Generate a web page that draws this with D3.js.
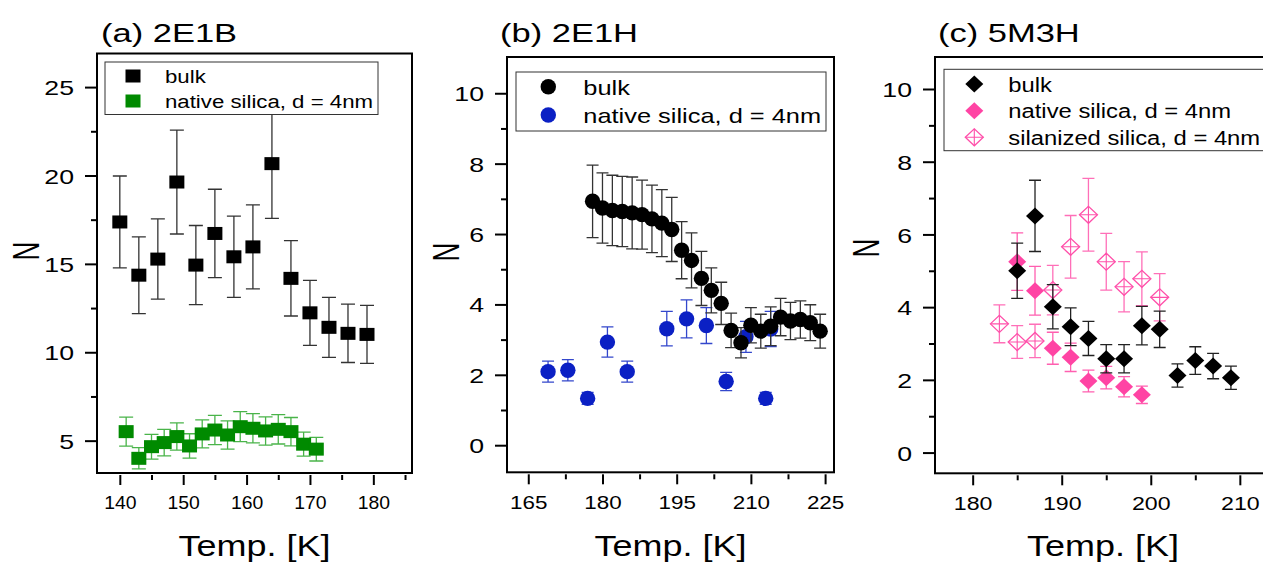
<!DOCTYPE html>
<html><head><meta charset="utf-8">
<script src="https://cdn.jsdelivr.net/npm/d3@7"></script>
<style>body{margin:0;background:#fff;} svg{display:block;} text{font-family:"Liberation Sans",Arial,sans-serif;fill:#000;}</style>
</head><body><svg id="c" width="1263" height="563"></svg>
<script>
// ---------- DATA ----------
// (a) 2E1B
const tempA_bulk = [140,143,146,149,152,155,158,161,164,167,170,173,176,179];
const nA_bulk    = [17.37,14.36,15.27,19.63,14.93,16.72,15.4,15.96,20.67,14.18,12.23,11.41,11.07,11.01];
const errA_bulk  = [2.6,2.17,2.27,2.94,2.24,2.5,2.3,2.38,3.1,2.13,1.84,1.7,1.65,1.64];
const tempA_native = [141,143,145,147,149,151,153,155,157,159,161,163,165,167,169,171];
const nA_native    = [5.51,4.0,4.66,4.89,5.23,4.7,5.38,5.6,5.32,5.79,5.7,5.55,5.64,5.51,4.8,4.52];
const errA_native  = [0.82,0.6,0.7,0.75,0.77,0.69,0.79,0.83,0.8,0.85,0.83,0.8,0.83,0.8,0.68,0.67];
// (b) 2E1H
const tempB_bulk = [178,180,182,184,186,188,190,192,194,196,198,200,202,204,206,208,210,212,214,216,218,220,222,224];
const nB_bulk    = [6.93,6.74,6.67,6.64,6.6,6.55,6.43,6.31,6.13,5.54,5.25,4.74,4.4,4.03,3.26,2.91,3.41,3.24,3.38,3.64,3.53,3.57,3.48,3.24];
const errB_bulk  = [1.03,1.0,1.0,1.0,1.02,0.98,0.96,0.95,0.91,0.81,0.78,0.77,0.64,0.6,0.49,0.43,0.5,0.48,0.55,0.53,0.53,0.53,0.51,0.48];
const tempB_native = [169,173,177,181,185,193,197,201,205,209,213,214];
const nB_native    = [2.09,2.13,1.33,2.93,2.09,3.31,3.59,3.4,1.81,3.08,1.33,3.3];
const errB_native  = [0.3,0.3,0.17,0.43,0.3,0.49,0.54,0.51,0.26,0.44,0.17,0.5];
// (c) 5M3H
const tempC_bulk = [185,187,189,191,193,195,197,199,201,203,205,207,209];
const nC_bulk    = [5.0,6.51,4.01,3.46,3.14,2.58,2.58,3.49,3.39,2.12,2.53,2.38,2.06];
const errC_bulk  = [0.76,0.98,0.61,0.52,0.47,0.39,0.39,0.53,0.5,0.32,0.38,0.35,0.32];
const tempC_native = [185,187,189,191,193,195,197,199];
const nC_native    = [5.25,4.45,2.87,2.62,1.97,2.06,1.81,1.59];
const errC_native  = [0.79,0.67,0.44,0.39,0.3,0.31,0.28,0.24];
const tempC_silan = [183,185,187,189,191,193,195,197,199,201];
const nC_silan    = [3.54,3.04,3.07,4.47,5.66,6.54,5.25,4.56,4.78,4.27];
const errC_silan  = [0.52,0.45,0.46,0.68,0.86,1.0,0.78,0.69,0.74,0.65];
// ticks
const xTicksA = [140,150,160,170,180], xMinorA = [145,155,165,175,185];
const yTicksA = [5,10,15,20,25], yMinorA = [7.5,12.5,17.5,22.5];
const xTicksB = [165,180,195,210,225], xMinorB = [172.5,187.5,202.5,217.5];
const yTicksB = [0,2,4,6,8,10], yMinorB = [1,3,5,7,9];
const xTicksC = [180,190,200,210], xMinorC = [185,195,205];
const yTicksC = [0,2,4,6,8,10], yMinorC = [1,3,5,7,9];
const titles = ["(a) 2E1B","(b) 2E1H","(c) 5M3H"];
const labelBulk = "bulk", labelNative = "native silica, d = 4nm", labelSilan = "silanized silica, d = 4nm";
const xTitle = "Temp. [K]", yTitle = "N";

// ---------- DRAW ----------
const svg = d3.select("#c");
const FONT_TICK = 21, SX_TICK = 1.27;

function stretchText(g, x, y, str, size, sx, anchor) {
  return g.append("text").attr("transform", `translate(${x},${y}) scale(${sx},1)`)
    .attr("text-anchor", anchor).attr("font-size", size).text(str);
}

function marker(g, shape, cx, cy, color, open) {
  if (shape === "square") {
    g.append("rect").attr("x", cx-7.5).attr("y", cy-6.5).attr("width", 15).attr("height", 13).attr("fill", color);
  } else if (shape === "circle") {
    g.append("circle").attr("cx", cx).attr("cy", cy).attr("r", 7.7).attr("fill", color);
  } else {
    const w = 9, h = 8.5;
    g.append("path").attr("d", `M${cx-w},${cy}L${cx},${cy-h}L${cx+w},${cy}L${cx},${cy+h}Z`)
      .attr("fill", open ? "#fff" : color).attr("stroke", open ? color : "none").attr("stroke-width", 1.3);
    if (open) g.append("path").attr("d", `M${cx-w},${cy}H${cx+w}M${cx},${cy-h}V${cy+h}`)
      .attr("stroke", color).attr("stroke-width", 1.1).attr("fill", "none");
  }
}

function drawPanel(p) {
  const g = svg.append("g");
  const x = d3.scaleLinear().domain(p.xDom).range([p.left, p.right]);
  const y = d3.scaleLinear().domain(p.yDom).range([p.bottom, p.top]);

  const clipId = "clip" + p.id;
  svg.append("clipPath").attr("id", clipId).append("rect")
    .attr("x", p.left).attr("y", p.top).attr("width", p.right - p.left).attr("height", p.bottom - p.top);
  const plot = g.append("g").attr("clip-path", `url(#${clipId})`);

  p.series.forEach(s => {
    const sg = plot.append("g");
    s.t.forEach((t, i) => {
      const cx = x(t), y1 = y(s.n[i] + s.e[i]), y2 = y(s.n[i] - s.e[i]);
      sg.append("path").attr("d", `M${cx},${y1}V${y2}M${cx-p.cap/2},${y1}H${cx+p.cap/2}M${cx-p.cap/2},${y2}H${cx+p.cap/2}`)
        .attr("stroke", s.bar).attr("stroke-width", 1.3).attr("fill", "none");
    });
    s.t.forEach((t, i) => marker(sg, s.shape, x(t), y(s.n[i]), s.color, s.open));
  });

  const L = p.legend;
  g.append("rect").attr("x", L.x0).attr("y", L.y0).attr("width", L.x1 - L.x0).attr("height", L.y1 - L.y0)
    .attr("fill", "#fff").attr("stroke", "#333").attr("stroke-width", 1);
  L.order.forEach((s, k) => {
    const ry = L.rows[k];
    marker(g, s.shape, L.mx, ry, s.color, s.open);
    stretchText(g, L.tx, ry + L.base, s.label, L.size, L.sx, "start");
  });

  g.append("rect").attr("x", p.left).attr("y", p.top).attr("width", p.right - p.left).attr("height", p.bottom - p.top)
    .attr("fill", "none").attr("stroke", "#000").attr("stroke-width", 2);

  const xa = g.append("g").attr("transform", `translate(0,${p.bottom + 2})`)
    .call(d3.axisBottom(x).tickValues(p.xTicks).tickSize(10).tickPadding(11).tickFormat(d3.format("d")));
  const xm = g.append("g").attr("transform", `translate(0,${p.bottom + 2})`)
    .call(d3.axisBottom(x).tickValues(p.xMinor).tickSize(5).tickFormat(""));
  [xa, xm].forEach(a => { a.select(".domain").remove(); a.selectAll("line").attr("stroke-width", 2).attr("stroke", "#000"); });
  xa.selectAll("text").attr("font-size", 19).attr("font-family", null)
    .attr("transform", `scale(${p.xsx},1)`);

  const ya = g.append("g").attr("transform", `translate(${p.left},0)`)
    .call(d3.axisLeft(y).tickValues(p.yTicks).tickSize(12).tickPadding(11).tickFormat(d3.format("d")));
  const ym = g.append("g").attr("transform", `translate(${p.left},0)`)
    .call(d3.axisLeft(y).tickValues(p.yMinor).tickSize(6).tickFormat(""));
  [ya, ym].forEach(a => { a.select(".domain").remove(); a.selectAll("line").attr("stroke-width", 2).attr("stroke", "#000"); });
  ya.selectAll("text").attr("font-size", FONT_TICK).attr("font-family", null)
    .attr("x", 0).attr("dy", "0.36em").attr("transform", `translate(-23,0) scale(${SX_TICK},1)`);

  stretchText(g, p.titleX, 42, p.title, 25, p.titleSx, "start");
  stretchText(g, (p.left + p.right) / 2, 556, xTitle, 29.5, 1.22, "middle");
  g.append("text").attr("transform", `translate(${p.nx},${p.ny}) scale(1.45,1) rotate(-90)`)
    .attr("text-anchor", "middle").attr("dy", "0.36em").attr("font-size", 26).text(yTitle);
}

const sBulkA = {label: labelBulk, t: tempA_bulk, n: nA_bulk, e: errA_bulk, color: "#000", bar: "#333", shape: "square"};
const sNatA  = {label: labelNative, t: tempA_native, n: nA_native, e: errA_native, color: "#008a00", bar: "#49b449", shape: "square"};
const sBulkB = {label: labelBulk, t: tempB_bulk, n: nB_bulk, e: errB_bulk, color: "#000", bar: "#333", shape: "circle"};
const sNatB  = {label: labelNative, t: tempB_native, n: nB_native, e: errB_native, color: "#0b20c4", bar: "#3347cc", shape: "circle"};
const sBulkC = {label: labelBulk, t: tempC_bulk, n: nC_bulk, e: errC_bulk, color: "#000", bar: "#222", shape: "diamond"};
const sNatC  = {label: labelNative, t: tempC_native, n: nC_native, e: errC_native, color: "#ff44a4", bar: "#ff5fb0", shape: "diamond"};
const sSilC  = {label: labelSilan, t: tempC_silan, n: nC_silan, e: errC_silan, color: "#ff50aa", bar: "#ff6fb8", shape: "diamond", open: true};

drawPanel({id: "a", left: 97, right: 412, top: 53.5, bottom: 473, xDom: [136.4, 186.1], yDom: [3.17, 26.9],
  xTicks: xTicksA, xMinor: xMinorA, yTicks: yTicksA, yMinor: yMinorA, xsx: 1.02, cap: 14,
  title: titles[0], titleX: 101, titleSx: 1.38, nx: 25, ny: 251,
  series: [sBulkA, sNatA],
  legend: {x0: 105, x1: 378, y0: 62, y1: 114.5, rows: [76, 101], mx: 133, tx: 165, base: 7.3, size: 19, sx: 1.17, order: [sBulkA, sNatA]}});
drawPanel({id: "b", left: 507, right: 834, top: 57, bottom: 472.3, xDom: [160.7, 226.8], yDom: [-0.77, 11.03],
  xTicks: xTicksB, xMinor: xMinorB, yTicks: yTicksB, yMinor: yMinorB, xsx: 1.18, cap: 12,
  title: titles[1], titleX: 500, titleSx: 1.38, nx: 445, ny: 252,
  series: [sNatB, sBulkB],
  legend: {x0: 516, x1: 826, y0: 72, y1: 131, rows: [86.7, 115], mx: 548.3, tx: 583.3, base: 8, size: 21, sx: 1.21, order: [sBulkB, sNatB]}});
drawPanel({id: "c", left: 935, right: 1271, top: 57, bottom: 473.3, xDom: [175.77, 213.5], yDom: [-0.57, 10.88],
  xTicks: xTicksC, xMinor: xMinorC, yTicks: yTicksC, yMinor: yMinorC, xsx: 1.22, cap: 12,
  title: titles[2], titleX: 938, titleSx: 1.38, nx: 865, ny: 248,
  series: [sSilC, sNatC, sBulkC],
  legend: {x0: 944, x1: 1275, y0: 69.3, y1: 150.7, rows: [84, 110.7, 137.3], mx: 974.3, tx: 1008.3, base: 7.7, size: 20, sx: 1.19, order: [sBulkC, sNatC, sSilC]}});
</script></body></html>
